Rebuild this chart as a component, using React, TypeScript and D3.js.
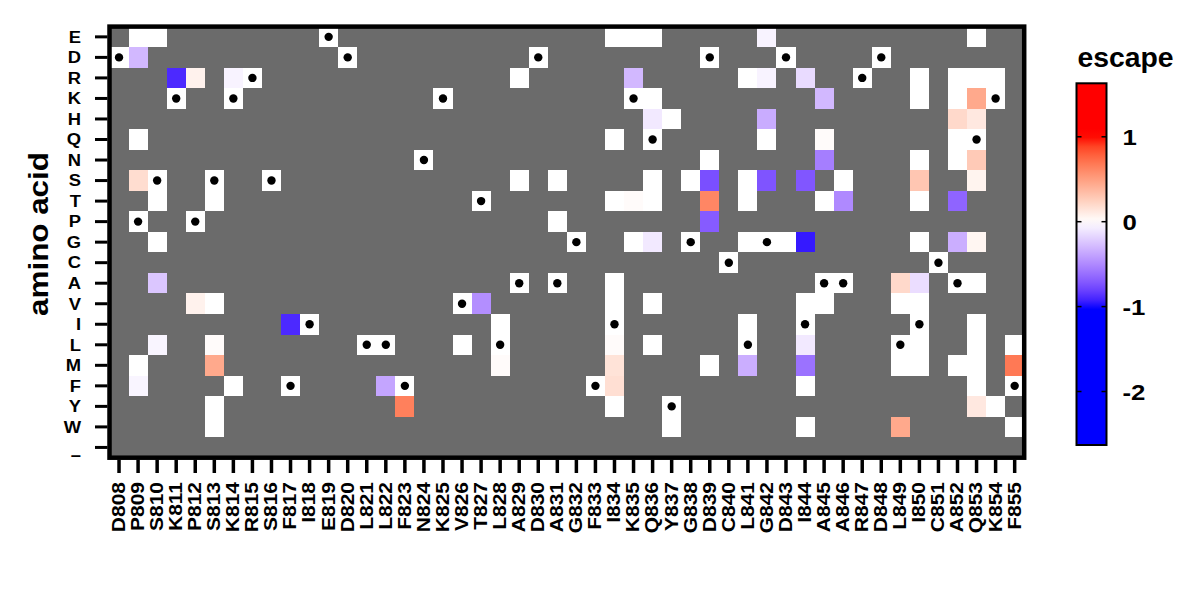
import React from "react";
import * as d3 from "d3";

const sites = [
  "D808","P809","S810","K811","P812","S813","K814","R815","S816","F817","I818","E819",
  "D820","L821","L822","F823","N824","K825","V826","T827","L828","A829","D830","A831",
  "G832","F833","I834","K835","Q836","Y837","G838","D839","C840","L841","G842","D843",
  "I844","A845","A846","R847","D848","L849","I850","C851","A852","Q853","K854","F855",
];

const aminoAcids = ["E","D","R","K","H","Q","N","S","T","P","G","C","A","V","I","L","M","F","Y","W","–"];

// [site, amino acid, escape] for measured non-wildtype mutations
const escapeCells: [string, string, number][] = [
  ["P809","E",0],["P809","D",-0.3],["P809","Q",0],["P809","S",0.18],["P809","M",0],["P809","F",-0.04],
  ["S810","E",0],["S810","T",0],["S810","G",0],["S810","A",-0.24],["S810","L",-0.04],
  ["K811","R",-0.9],
  ["P812","R",0.07],["P812","V",0.07],
  ["S813","T",0],["S813","V",0],["S813","L",0.02],["S813","M",0.45],["S813","Y",0],["S813","W",0],
  ["K814","R",-0.05],["K814","F",0],
  ["F817","I",-0.9],
  ["L822","F",-0.38],
  ["F823","Y",0.65],
  ["V826","L",0],
  ["T827","V",-0.48],
  ["L828","I",0],["L828","M",0.02],
  ["A829","R",0],["A829","S",0],
  ["A831","S",0],["A831","P",0],
  ["I834","E",0],["I834","Q",0],["I834","T",0],["I834","A",0],["I834","V",0],["I834","L",0.02],
  ["I834","M",0.15],["I834","F",0.17],["I834","Y",0],
  ["K835","E",0],["K835","R",-0.3],["K835","T",0.02],["K835","G",0],
  ["Q836","E",0],["Q836","K",0],["Q836","H",-0.09],["Q836","S",0],["Q836","T",0],["Q836","G",-0.09],
  ["Q836","V",0],["Q836","L",0],
  ["Y837","H",0],["Y837","W",0],
  ["G838","S",0],
  ["D839","N",0],["D839","S",-0.75],["D839","T",0.62],["D839","P",-0.7],["D839","M",0],
  ["L841","R",0],["L841","S",0],["L841","T",0],["L841","G",0],["L841","I",0],["L841","M",-0.34],
  ["G842","E",-0.05],["G842","R",-0.05],["G842","H",-0.35],["G842","Q",0],["G842","S",-0.73],
  ["D843","G",0],
  ["I844","R",-0.15],["I844","S",-0.72],["I844","G",-0.95],["I844","V",0],["I844","L",-0.09],
  ["I844","M",-0.6],["I844","F",0],["I844","W",0],
  ["A845","K",-0.3],["A845","Q",0.02],["A845","N",-0.55],["A845","T",0],["A845","V",0],
  ["A846","S",0],["A846","T",-0.5],
  ["L849","A",0.2],["L849","V",0],["L849","M",0],["L849","W",0.45],
  ["I850","R",0],["I850","K",0],["I850","N",0],["I850","S",0.3],["I850","T",0],["I850","G",0],
  ["I850","A",-0.14],["I850","V",0],["I850","L",0],["I850","M",0],
  ["A852","R",0],["A852","K",0],["A852","H",0.2],["A852","Q",0],["A852","N",0],["A852","T",-0.66],
  ["A852","G",-0.34],["A852","M",0],
  ["Q853","E",0],["Q853","R",0],["Q853","K",0.45],["Q853","H",0.12],["Q853","N",0.28],["Q853","S",0.06],
  ["Q853","G",0.05],["Q853","A",0],["Q853","I",0],["Q853","L",0],["Q853","M",0],["Q853","F",0],["Q853","Y",0.12],
  ["K854","R",0],["K854","Y",0],
  ["F855","L",0],["F855","M",0.68],["F855","W",0],
];

const colorbarTicks = [-2, -1, 0, 1];
const colorbarDomain = [-2.63, 1.63];
const legendTitle = "escape";
const yTitle = "amino acid";

const FONT = "'Liberation Sans', Arial, sans-serif";

export default function App() {
  const x = d3.scaleBand<string>().domain(sites).range([109.5, 1024.2]).padding(0);
  const y = d3.scaleBand<string>().domain(aminoAcids).range([26.6, 457.7]).padding(0);
  const color = d3
    .scaleLinear<string>()
    .domain([-1, 0, 1])
    .range(["#0000ff", "#ffffff", "#ff0000"])
    .interpolate(d3.interpolateLab)
    .clamp(true);
  const cb = d3.scaleLinear().domain(colorbarDomain).range([445, 83.3]);

  const [x0, x1] = x.range();
  const [y0, y1] = y.range();
  const bw = x.bandwidth();
  const bh = y.bandwidth();

  const wildtype = sites.map((s) => ({ site: s, aa: s[0] }));

  const gradStops = d3.range(0, 41).map((i) => {
    const t = i / 40;
    const v = colorbarDomain[0] + t * (colorbarDomain[1] - colorbarDomain[0]);
    return { offset: t, color: color(v) };
  });

  const cbX = 1076.5;
  const cbW = 30;

  return (
    <svg
      width={1200}
      height={600}
      style={{ position: "absolute", left: 0, top: 0, background: "#fff" }}
      fontFamily={FONT}
      fontWeight="bold"
    >
      <defs>
        <clipPath id="plotclip">
          <rect x={x0} y={y0} width={x1 - x0} height={y1 - y0} />
        </clipPath>
        <linearGradient id="cbgrad" x1="0" y1="1" x2="0" y2="0">
          {gradStops.map((s, i) => (
            <stop key={i} offset={s.offset} stopColor={s.color} />
          ))}
        </linearGradient>
      </defs>

      <g clipPath="url(#plotclip)" shapeRendering="crispEdges">
        <rect x={x0} y={y0} width={x1 - x0} height={y1 - y0} fill="#6b6b6b" />
        {escapeCells.map(([s, a, v], i) => (
          <rect key={i} x={x(s)} y={y(a)} width={bw} height={bh} fill={color(v)} />
        ))}
        {wildtype.map((w) => (
          <rect key={w.site} x={x(w.site)} y={y(w.aa)} width={bw} height={bh} fill={color(0)} />
        ))}
      </g>
      <g clipPath="url(#plotclip)">
        {wildtype.map((w) => (
          <circle
            key={w.site}
            cx={(x(w.site) as number) + bw / 2}
            cy={(y(w.aa) as number) + bh / 2}
            r={4.2}
            fill="#000"
          />
        ))}
      </g>

      <rect x={x0} y={y0} width={x1 - x0} height={y1 - y0} fill="none" stroke="#000" strokeWidth={4.5} />

      {/* y axis */}
      {aminoAcids.map((a) => {
        const cy = (y(a) as number) + bh / 2;
        return (
          <g key={a}>
            <line x1={95} x2={x0 - 2} y1={cy} y2={cy} stroke="#000" strokeWidth={3} />
            <text
              transform={`translate(81, ${cy + (a === "–" ? 8 : 0)}) scale(1.08,1)`}
              textAnchor="end"
              dominantBaseline="central"
              fontSize={17}
            >
              {a}
            </text>
          </g>
        );
      })}
      <text
        transform={`translate(38, 234) rotate(-90) scale(1.12,1)`}
        textAnchor="middle"
        dominantBaseline="central"
        fontSize={28}
      >
        {yTitle}
      </text>

      {/* x axis */}
      {sites.map((s) => {
        const cx = (x(s) as number) + bw / 2;
        return (
          <g key={s}>
            <line x1={cx} x2={cx} y1={y1 + 2} y2={473} stroke="#000" strokeWidth={3.5} />
            <text
              transform={`translate(${cx}, 482) rotate(-90) scale(1.2,1)`}
              textAnchor="end"
              dominantBaseline="central"
              fontSize={17.5}
            >
              {s}
            </text>
          </g>
        );
      })}

      {/* colorbar */}
      <text
        transform={`translate(${cbX + cbW / 2 + 34}, 67) scale(1.05,1)`}
        textAnchor="middle"
        fontSize={27}
      >
        {legendTitle}
      </text>
      <rect
        x={cbX}
        y={cb(colorbarDomain[1])}
        width={cbW}
        height={cb(colorbarDomain[0]) - cb(colorbarDomain[1])}
        fill="url(#cbgrad)"
      />
      {colorbarTicks.map((t) => (
        <g key={t}>
          <line x1={cbX} x2={cbX + 5} y1={cb(t)} y2={cb(t)} stroke="#000" strokeWidth={1.5} />
          <line x1={cbX + cbW - 5} x2={cbX + cbW} y1={cb(t)} y2={cb(t)} stroke="#000" strokeWidth={1.5} />
          <text
            transform={`translate(${cbX + 46}, ${cb(t)}) scale(1.12,1)`}
            dominantBaseline="central"
            fontSize={23}
          >
            {t}
          </text>
        </g>
      ))}
      <rect
        x={cbX}
        y={cb(colorbarDomain[1])}
        width={cbW}
        height={cb(colorbarDomain[0]) - cb(colorbarDomain[1])}
        fill="none"
        stroke="#000"
        strokeWidth={2}
      />
    </svg>
  );
}
